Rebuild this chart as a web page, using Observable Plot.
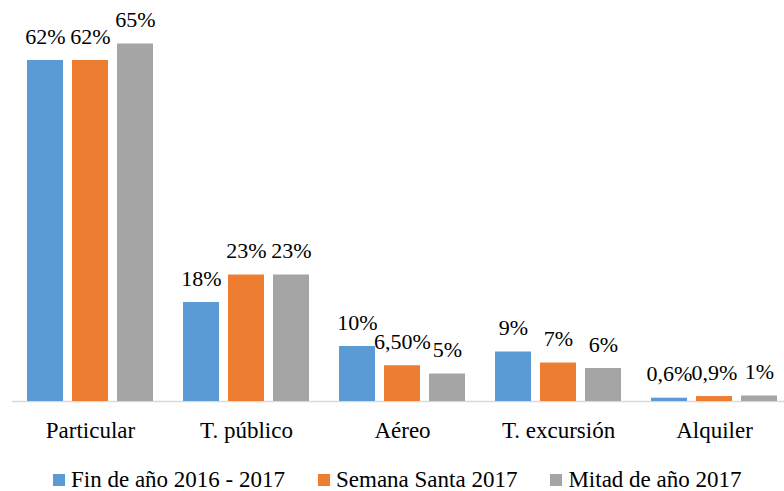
<!DOCTYPE html>
<html>
<head>
<meta charset="utf-8">
<script src="https://cdn.jsdelivr.net/npm/d3@7"></script>
<script src="https://cdn.jsdelivr.net/npm/@observablehq/plot@0.6"></script>
<style>
  html, body { margin: 0; padding: 0; background: #fff; overflow: hidden; }
  body { font-family: "Liberation Serif", "Times New Roman", Times, "DejaVu Serif", serif; }
  #legend { display: flex; align-items: center; margin-top: 17px; margin-left: 53px; font-size: 23px; line-height: 26px; color: #000; white-space: nowrap; }
  .item { display: flex; align-items: center; margin-right: 33px; }
  .sw { width: 12px; height: 12px; margin-right: 6px; }
  svg text { font-family: "Liberation Serif", "Times New Roman", Times, "DejaVu Serif", serif; }
</style>
</head>
<body>
<div id="chart"></div>
<div id="legend"></div>
<script>
const categories = ["Particular", "T. público", "Aéreo", "T. excursión", "Alquiler"];
const seriesNames = ["Fin de año 2016 - 2017", "Semana Santa 2017", "Mitad de año 2017"];
const colors = ["#5b9bd5", "#ed7d31", "#a5a5a5"];
const finDeAno = [62, 18, 10, 9, 0.6];
const semanaSanta = [62, 23, 6.5, 7, 0.9];
const mitadDeAno = [65, 23, 5, 6, 1];
const finDeAnoLabels = ["62%", "18%", "10%", "9%", "0,6%"];
const semanaSantaLabels = ["62%", "23%", "6,50%", "7%", "0,9%"];
const mitadDeAnoLabels = ["65%", "23%", "5%", "6%", "1%"];

const seriesValues = [finDeAno, semanaSanta, mitadDeAno];
const seriesLabels = [finDeAnoLabels, semanaSantaLabels, mitadDeAnoLabels];
const data = [];
categories.forEach((c, i) => {
  seriesNames.forEach((s, j) => {
    data.push({cat: c, series: s, value: seriesValues[j][i], label: seriesLabels[j][i]});
  });
});

const chart = Plot.plot({
  width: 784,
  height: 450,
  marginLeft: 10,
  marginRight: -9,
  marginTop: 16,
  marginBottom: 49,
  style: {background: "#fff", color: "#000", overflow: "hidden"},
  fx: {domain: categories, padding: 0, label: null},
  x: {domain: seriesNames, paddingInner: 0.2, paddingOuter: 0.31, axis: null},
  y: {domain: [0, 70], axis: null},
  color: {domain: seriesNames, range: colors},
  marks: [
    Plot.axisFx({anchor: "bottom", tickSize: 0, tickPadding: 20, fontSize: 23, label: null}),
    Plot.ruleY([0], {stroke: "#d9d9d9", strokeWidth: 1.5}),
    Plot.barY(data, {fx: "cat", x: "series", y: "value", fill: "series"}),
    Plot.text(data, {fx: "cat", x: "series", y: "value", text: "label", dy: -17, lineAnchor: "bottom", fontSize: 22, fill: "#000"})
  ]
});
document.getElementById("chart").appendChild(chart);

const legend = document.getElementById("legend");
seriesNames.forEach((s, j) => {
  const item = document.createElement("div");
  item.className = "item";
  const sw = document.createElement("div");
  sw.className = "sw";
  sw.style.background = colors[j];
  const t = document.createElement("span");
  t.textContent = s;
  item.appendChild(sw);
  item.appendChild(t);
  legend.appendChild(item);
});
</script>
</body>
</html>
